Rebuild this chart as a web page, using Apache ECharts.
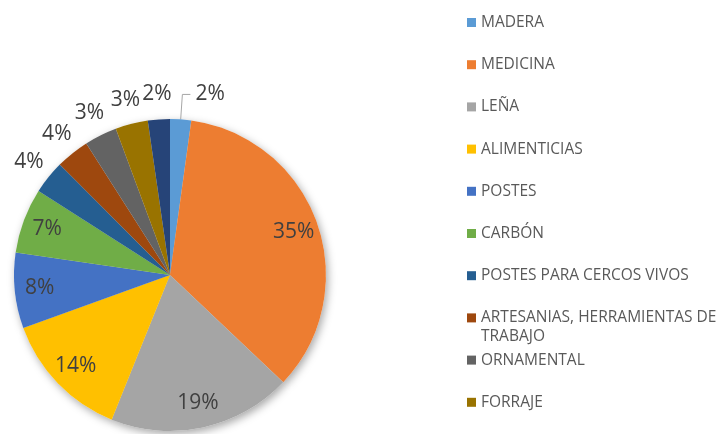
<!DOCTYPE html>
<html>
<head>
<meta charset="utf-8">
<script src="https://cdn.jsdelivr.net/npm/echarts@6/dist/echarts.min.js"></script>
<style>
  html, body { margin: 0; padding: 0; background: #fff; }
  #pieChart { width: 724px; height: 434px; }
</style>
</head>
<body>
<div id="pieChart"></div>
<script>
// datos (porcentaje aproximado de cada sector)
var categories = ['MADERA', 'MEDICINA', 'LEÑA', 'ALIMENTICIAS', 'POSTES', 'CARBÓN',
	'POSTES PARA CERCOS VIVOS', 'ARTESANIAS, HERRAMIENTAS DE TRABAJO', 'ORNAMENTAL', 'FORRAJE', 'OTROS'];
var values = [2.2, 35.2, 19.2, 13.5, 7.9, 6.8, 3.5, 3.5, 3.4, 3.4, 2.3];
var colors = ['#5b9bd5', '#ed7d31', '#a5a5a5', '#ffc000', '#4472c4', '#70ad47',
	'#255e91', '#9e480e', '#636363', '#997300', '#264478'];
var legendNames = categories.slice(0, 10);

var center = [170, 275];
var font = '"Open Sans", sans-serif';
var fmt = function (p) { return Math.round(p.value) + '%'; };

var chartDom = document.getElementById('pieChart');
var myChart = echarts.init(chartDom, null, { devicePixelRatio: 1 });

var mainData = categories.map(function (name, i) {
	var item = { name: name, value: values[i], itemStyle: { color: colors[i] } };
	if (i === 0) {
		item.label = {
			show: true,
			position: 'outside',
			formatter: fmt,
			fontSize: 21,
			fontFamily: font,
			color: '#404040'
		};
		item.labelLine = {
			show: true,
			length: 25,
			length2: 8,
			lineStyle: { color: '#a6a6a6', width: 1 }
		};
	}
	return item;
});

var shadowData = categories.map(function (name, i) {
	return { name: name, value: values[i] };
});

// etiquetas dentro del sector (valores grandes)
var innerLabels = categories.map(function (name, i) {
	return {
		name: name,
		value: values[i],
		itemStyle: { color: 'transparent' },
		label: { show: values[i] >= 5 }
	};
});

// etiquetas fuera del sector (valores chicos)
var outerLabels = categories.map(function (name, i) {
	return {
		name: name,
		value: values[i],
		itemStyle: { color: 'transparent' },
		label: { show: values[i] < 5 && i !== 0 }
	};
});

var labelStyle = {
	position: 'inside',
	formatter: fmt,
	fontSize: 21,
	fontFamily: font,
	color: '#404040'
};

var option = {
	animation: false,
	legend: {
		orient: 'vertical',
		left: 467,
		top: 13.5,
		padding: 0,
		itemWidth: 9,
		itemHeight: 9,
		itemGap: 24.2,
		icon: 'rect',
		data: legendNames,
		formatter: function (name) {
			return name === 'ARTESANIAS, HERRAMIENTAS DE TRABAJO' ? 'ARTESANIAS, HERRAMIENTAS DE' : name;
		},
		textStyle: {
			fontSize: 15.5,
			lineHeight: 18,
			fontFamily: font,
			color: '#595959'
		}
	},
	graphic: [
		{
			type: 'text',
			left: 481,
			top: 329,
			style: { text: 'TRABAJO', fontSize: 15.5, fontFamily: font, fill: '#595959' }
		}
	],
	series: [
		{
			name: 'usos',
			type: 'pie',
			z: 3,
			center: center,
			radius: 156,
			startAngle: 90,
			clockwise: true,
			avoidLabelOverlap: false,
			label: { show: false },
			labelLine: { show: false },
			emphasis: { disabled: true },
			data: mainData
		},
		{
			name: 'sombra',
			type: 'pie',
			z: 1,
			center: center,
			radius: 156,
			startAngle: 90,
			clockwise: true,
			silent: true,
			label: { show: false },
			labelLine: { show: false },
			emphasis: { disabled: true },
			itemStyle: {
				color: '#ffffff',
				shadowBlur: 8,
				shadowOffsetX: 2,
				shadowOffsetY: 3,
				shadowColor: 'rgba(0,0,0,0.35)'
			},
			data: shadowData
		},
		{
			name: 'etiquetas',
			type: 'pie',
			z: 4,
			center: center,
			radius: [100, 156],
			startAngle: 90,
			clockwise: true,
			silent: true,
			avoidLabelOverlap: false,
			label: labelStyle,
			labelLine: { show: false },
			emphasis: { disabled: true },
			data: innerLabels
		},
		{
			name: 'etiquetas2',
			type: 'pie',
			z: 4,
			center: center,
			radius: [156, 200],
			startAngle: 90,
			clockwise: true,
			silent: true,
			avoidLabelOverlap: false,
			label: labelStyle,
			labelLine: { show: false },
			emphasis: { disabled: true },
			data: outerLabels
		}
	]
};

option && myChart.setOption(option);
</script>
</body>
</html>
